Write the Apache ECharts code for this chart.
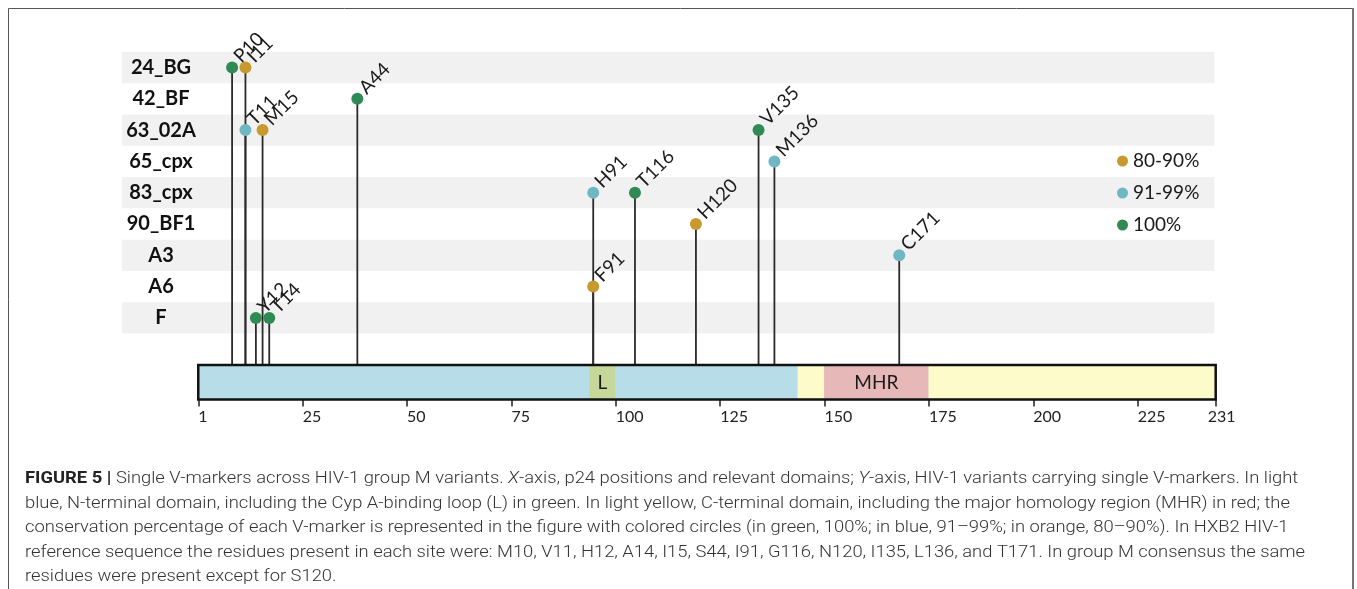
<!DOCTYPE html>
<html><head><meta charset="utf-8">
<script src="https://cdn.jsdelivr.net/npm/echarts@6/dist/echarts.min.js"></script>
<style>html,body{margin:0;padding:0;background:#fff}#c{width:1357px;height:589px}</style>
</head><body><div id="c"></div>
<script>
// ---------- data ----------
const variants = ['24_BG','42_BF','63_02A','65_cpx','83_cpx','90_BF1','A3','A6','F'];
const markerNames = ['P10','I11','T11','M15','A44','V135','M136','H91','T116','H120','C171','F91','Y12','T14'];
const markerPositions = [8.1,11.3,11.3,15.4,38.1,134.2,138.0,94.6,104.6,119.2,167.9,94.6,13.8,17.0];
const markerVariants = ['24_BG','24_BG','63_02A','63_02A','42_BF','63_02A','65_cpx','83_cpx','83_cpx','90_BF1','A3','A6','F','F'];
const markerConservation = ['100%','80-90%','91-99%','80-90%','100%','100%','91-99%','91-99%','100%','80-90%','91-99%','80-90%','100%','100%'];
const conservationClasses = ['80-90%','91-99%','100%'];
const domainNames = ['', 'L', '', 'MHR'];
const domainStarts = [0, 93.65, 143.6, 149.9];
const domainEnds = [143.6, 99.9, 243.7, 174.9];
const tickValues = [0,25,50,75,100,125,150,175,200,225,243.7];
const tickLabelValues = [0,25,50,75,100,125,150,175,200,225,241.8];
const tickLabels = ['1','25','50','75','100','125','150','175','200','225','231'];
const captionBold = 'FIGURE 5 |';
const captionLines = [
  ' Single V-markers across HIV-1 group M variants. X-axis, p24 positions and relevant domains; Y-axis, HIV-1 variants carrying single V-markers. In light',
  'blue, N-terminal domain, including the Cyp A-binding loop (L) in green. In light yellow, C-terminal domain, including the major homology region (MHR) in red; the',
  'conservation percentage of each V-marker is represented in the figure with colored circles (in green, 100%; in blue, 91–99%; in orange, 80–90%). In HXB2 HIV-1',
  'reference sequence the residues present in each site were: M10, V11, H12, A14, I15, S44, I91, G116, N120, I135, L136, and T171. In group M consensus the same',
  'residues were present except for S120.'
];

// ---------- styling / layout ----------
const classColors = {'80-90%':'#c8992f','91-99%':'#6fb8c3','100%':'#2f8a55'};
const domainColors = ['#b7dde8','#c5d89a','#fefbca','#e6b8b8'];
const X_MIN = -18.27, X_MAX = 243.7;
const Y_MIN = -0.5, BAR_TOP = 9.505, BAR_BOTTOM = 10.607;
const FONT = 'Lato, "Open Sans", sans-serif';

const chart = echarts.init(document.getElementById('c'), null, {renderer:'canvas'});

const bandRows = variants.map((v,i)=>i).filter(i=>i%2===0);

const scatterSeries = conservationClasses.map(cls => ({
  name: cls, type: 'scatter', z: 5,
  symbol: 'circle', symbolSize: 12,
  itemStyle: {color: classColors[cls], opacity: 1},
  data: markerNames.map((n,i)=>({n,i})).filter(o=>markerConservation[o.i]===cls)
    .map(o=>({name:o.n, value:[markerPositions[o.i], variants.indexOf(markerVariants[o.i])]})),
  label: {show:true, formatter:'{b}', position:[11,-2], rotate:45, align:'left', verticalAlign:'middle',
          fontFamily: FONT, fontSize: 19, color:'#1a1a1a', distance:0},
  emphasis:{disabled:true}
}));

// caption scaling
const cv = document.createElement('canvas').getContext('2d');
const CAP_FONT = 'Roboto, "Liberation Sans", sans-serif';
cv.font = 'bold 16px ' + CAP_FONT;
const wBold = cv.measureText(captionBold).width;
cv.font = '300 16px ' + CAP_FONT;
const wRest = cv.measureText(captionLines[0]).width;
const capScale = 1273 / (wBold + wRest);
const capTop = 480, capPitch = 24.6;
const toRich = (line) => '{r|' + line.replace(/([XY])-axis/g, '}{i|$1}{r|-axis') + '}';
const captionGraphics = captionLines.map((line, i) => ({
  type:'text', left: 25, top: capTop + i*capPitch - 9, scaleX: capScale, originX: 0,
  style:{
    text: (i===0 ? '{b|' + captionBold + '}' : '') + toRich(line),
    rich:{
      b:{fontFamily:CAP_FONT, fontWeight:'bold', fontSize:16, fill:'#222'},
      r:{fontFamily:CAP_FONT, fontWeight:300, fontSize:16, fill:'#333'},
      i:{fontFamily:CAP_FONT, fontWeight:300, fontStyle:'italic', fontSize:16, fill:'#333'}
    }
  }
}));

const option = {
  animation:false,
  backgroundColor:'#fff',
  grid:{left:122, right:1357-1215.7, top:51.85, bottom:589-399.5, containLabel:false},
  xAxis:{type:'value', min:X_MIN, max:X_MAX, position:'bottom',
    axisLine:{show:false, onZero:false}, splitLine:{show:false},
    axisTick:{show:true, customValues:tickValues, length:7, lineStyle:{color:'#222', width:1.5}},
    axisLabel:{customValues:tickLabelValues, formatter:(v)=>{const k=tickLabelValues.indexOf(v);return k>=0?tickLabels[k]:'';},
      align:'left', margin:9, fontFamily:FONT, fontSize:16, color:'#222'}},
  yAxis:{type:'value', inverse:true, min:Y_MIN, max:BAR_BOTTOM, z:10,
    axisLine:{show:false, onZero:false}, axisTick:{show:false}, splitLine:{show:false},
    axisLabel:{customValues:variants.map((v,i)=>i), formatter:(v)=>variants[v]||'', inside:true, align:'center', margin:39,
      fontFamily:FONT, fontWeight:'bold', fontSize:20, color:'#111'}},
  legend:{data:conservationClasses, orient:'vertical', left:1112, top:146, icon:'circle',
    itemWidth:11, itemHeight:11, itemGap:12, selectedMode:false,
    textStyle:{fontFamily:FONT, fontSize:19, color:'#1a1a1a', lineHeight:20, padding:[0,0,0,0]}},
  graphic:[
    {type:'rect', shape:{x:8.5, y:8.5, width:1344, height:640}, style:{fill:'none', stroke:'#555', lineWidth:1}, z:0},
    {type:'line', shape:{x1:1353, y1:8, x2:1353, y2:650}, style:{stroke:'#777', lineWidth:2}, z:0},
    ...captionGraphics
  ],
  series:[
    {type:'custom', z:1, silent:true, data:bandRows,
      renderItem:(params, api)=>{
        const r = api.value(0);
        const p1 = api.coord([X_MIN, r-0.5]), p2 = api.coord([243.4, r+0.5]);
        return {type:'rect', shape:{x:p1[0], y:p1[1], width:p2[0]-p1[0], height:p2[1]-p1[1]}, style:{fill:'#f1f1f1'}};
      }},
    {type:'custom', z:2, silent:true,
      data: markerNames.map((n,i)=>[markerPositions[i], variants.indexOf(markerVariants[i])]),
      renderItem:(params, api)=>{
        const a = api.coord([api.value(0), api.value(1)]), b = api.coord([api.value(0), BAR_TOP]);
        return {type:'line', shape:{x1:a[0], y1:a[1], x2:b[0], y2:b[1]}, style:{stroke:'#2a2a2a', lineWidth:1.8}};
      }},
    {type:'custom', z:3, silent:true,
      data: domainStarts.map((s,i)=>[s, domainEnds[i], i]),
      renderItem:(params, api)=>{
        const i = api.value(2);
        const p1 = api.coord([api.value(0), BAR_TOP]), p2 = api.coord([api.value(1), BAR_BOTTOM]);
        const children = [{type:'rect', shape:{x:p1[0], y:p1[1], width:p2[0]-p1[0], height:p2[1]-p1[1]}, style:{fill:domainColors[i]}}];
        if (domainNames[i]) children.push({type:'text', style:{text:domainNames[i], x:(p1[0]+p2[0])/2, y:(p1[1]+p2[1])/2+1,
          align:'center', verticalAlign:'middle', fontFamily:FONT, fontSize:19, fill:'#1a1a1a'}});
        return {type:'group', children};
      }},
    {type:'custom', z:4, silent:true, data:[[domainStarts[0], domainEnds[2]]],
      renderItem:(params, api)=>{
        const p1 = api.coord([api.value(0), BAR_TOP]), p2 = api.coord([api.value(1), BAR_BOTTOM]);
        return {type:'rect', shape:{x:p1[0], y:p1[1], width:p2[0]-p1[0], height:p2[1]-p1[1]}, style:{fill:'none', stroke:'#111', lineWidth:2.5}};
      }},
    ...scatterSeries
  ]
};
chart.setOption(option);
</script></body></html>
